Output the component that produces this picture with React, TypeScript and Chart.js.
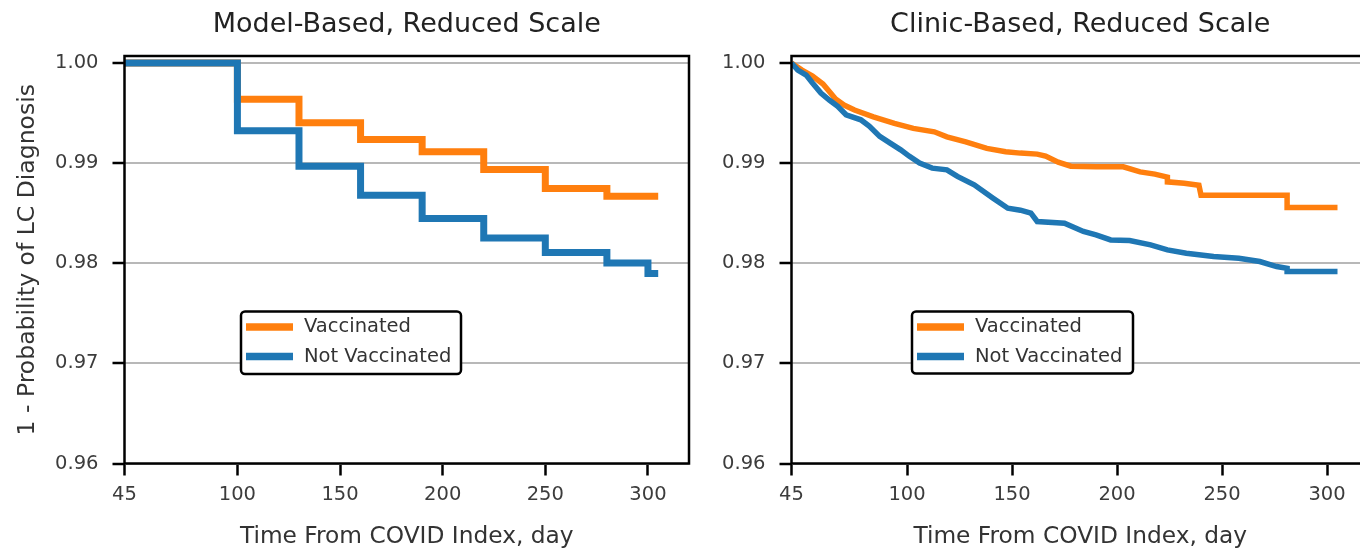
import React, { useEffect, useRef } from "react";
import { Chart, registerables } from "chart.js";

Chart.register(...registerables);

// ---------- data ----------
const xTicks = [45, 100, 150, 200, 250, 300];
const yTicks = [0.96, 0.97, 0.98, 0.99, 1.0];
const seriesLabels = ["Vaccinated", "Not Vaccinated"];
const seriesColors = ["#ff7f0e", "#1f77b4"];
const titles = ["Model-Based, Reduced Scale", "Clinic-Based, Reduced Scale"];
const xTitle = "Time From COVID Index, day";
const yTitle = "1 - Probability of LC Diagnosis";

// Model-based (step every 30 days)
const modelDays = [45, 100, 130, 160, 190, 220, 250, 280, 300, 305];
const modelVacc = [1.0, 0.99637, 0.99403, 0.99237, 0.99113, 0.98937, 0.98747, 0.9867, 0.9867, 0.9867];
const modelUnvacc = [1.0, 0.99323, 0.9897, 0.9868, 0.98447, 0.98253, 0.98107, 0.98003, 0.97897, 0.97897];

// Clinic-based (dense Kaplan-Meier curves; repeated days are vertical drops)
const clinicVaccDays = [45, 50, 55, 60, 66, 70, 75, 84, 94, 103, 113, 119, 128, 138, 147, 154, 162, 166, 172, 178, 190, 203, 211, 218, 224, 224, 232, 239, 240, 281, 281, 305];
const clinicVacc = [1.0, 0.9993, 0.9987, 0.9979, 0.9964, 0.9958, 0.9953, 0.99463, 0.99397, 0.99347, 0.99313, 0.99263, 0.99213, 0.99147, 0.99113, 0.991, 0.9909, 0.9907, 0.9901, 0.9897, 0.98965, 0.98963, 0.98913, 0.9889, 0.9886, 0.98813, 0.988, 0.9878, 0.9868, 0.9868, 0.98557, 0.98557];
const clinicUnvaccDays = [45, 48, 52, 55, 59, 63, 67, 71, 78, 82, 87, 92, 97, 101, 106, 112, 119, 124, 132, 141, 148, 154, 159, 162, 175, 184, 190, 197, 206, 216, 224, 233, 246, 258, 268, 276, 281, 281, 305];
const clinicUnvacc = [1.0, 0.9993, 0.9988, 0.998, 0.997, 0.9963, 0.99567, 0.99483, 0.99433, 0.9937, 0.99267, 0.992, 0.99133, 0.9907, 0.99, 0.9895, 0.98933, 0.98867, 0.98783, 0.9865, 0.9855, 0.9853, 0.985, 0.98417, 0.984, 0.98317, 0.98283, 0.98233, 0.98227, 0.98183, 0.98133, 0.981, 0.98067, 0.9805, 0.98017, 0.97967, 0.9795, 0.97917, 0.97917];

const FONT = "'DejaVu Sans', 'Liberation Sans', sans-serif";

const frameLegendPlugin = {
  id: "frameLegend",
  afterDraw(chart: any, _args: any, opts: any) {
    const { ctx, chartArea: a } = chart;
    ctx.save();
    ctx.strokeStyle = "#000";
    ctx.lineWidth = 2.5;
    ctx.strokeRect(a.left, a.top, a.right - a.left, a.bottom - a.top);

    const bx = a.left + opts.x;
    const by = a.top + opts.y;
    ctx.beginPath();
    if ((ctx as any).roundRect) (ctx as any).roundRect(bx, by, opts.w, opts.h, 4);
    else ctx.rect(bx, by, opts.w, opts.h);
    ctx.fillStyle = "#fff";
    ctx.fill();
    ctx.lineWidth = 2.5;
    ctx.strokeStyle = "#000";
    ctx.stroke();

    chart.data.datasets.forEach((ds: any, i: number) => {
      const y = by + 15.5 + i * 29.5;
      ctx.beginPath();
      ctx.strokeStyle = ds.borderColor;
      ctx.lineWidth = 7.5;
      ctx.lineCap = "butt";
      ctx.moveTo(bx + 5, y);
      ctx.lineTo(bx + 52, y);
      ctx.stroke();
      ctx.fillStyle = "#333";
      ctx.font = `19.5px ${FONT}`;
      ctx.textBaseline = "middle";
      ctx.textAlign = "left";
      ctx.fillText(ds.label, bx + 63, y);
    });
    ctx.restore();
  },
};

function toPoints(xs: number[], ys: number[]) {
  return xs.map((x, i) => ({ x, y: ys[i] }));
}

function buildConfig(
  title: string,
  vacc: { x: number; y: number }[],
  unvacc: { x: number; y: number }[],
  lineWidth: number,
  stepped: boolean,
  showYTitle: boolean,
  rightPad: number,
  legendBox: { x: number; y: number; w: number; h: number }
): any {
  const common = {
    borderWidth: lineWidth,
    stepped,
    tension: 0,
    pointRadius: 0,
    fill: false,
    borderJoinStyle: "miter",
  };
  return {
    type: "line",
    data: {
      datasets: [
        {
          ...common,
          label: seriesLabels[0],
          data: vacc,
          borderColor: seriesColors[0],
          backgroundColor: seriesColors[0],
          order: 1,
        },
        {
          ...common,
          label: seriesLabels[1],
          data: unvacc,
          borderColor: seriesColors[1],
          backgroundColor: seriesColors[1],
          order: 0,
        },
      ],
    },
    options: {
      animation: false,
      responsive: false,
      devicePixelRatio: 1,
      layout: { padding: { left: 0, right: rightPad, top: 0, bottom: 0 } },
      plugins: {
        legend: { display: false },
        tooltip: { enabled: false },
        title: {
          display: true,
          text: title,
          fullSize: false,
          color: "#222",
          font: { family: FONT, size: 27, weight: "normal", lineHeight: 1.2 },
          padding: { top: 8.8, bottom: 14.8 },
        },
        frameLegend: legendBox,
      },
      scales: {
        x: {
          type: "linear",
          min: 45,
          max: 320,
          afterBuildTicks: (s: any) => {
            s.ticks = xTicks.map((v) => ({ value: v }));
          },
          afterFit: (s: any) => {
            s.height = 84.5;
          },
          border: { display: false },
          grid: {
            drawOnChartArea: false,
            drawTicks: true,
            tickLength: 12,
            tickColor: "#000",
            tickWidth: 2.5,
          },
          ticks: {
            color: "#3c3c3c",
            padding: 8,
            maxRotation: 0,
            font: { family: FONT, size: 19.5 },
            callback: (v: any) => String(v),
          },
          title: {
            display: true,
            text: xTitle,
            color: "#333",
            font: { family: FONT, size: 23.3, lineHeight: 0.94 },
            padding: { top: 0, bottom: 0 },
          },
        },
        y: {
          type: "linear",
          min: 0.96,
          max: 1.0007,
          afterBuildTicks: (s: any) => {
            s.ticks = yTicks.map((v) => ({ value: v }));
          },
          afterFit: (s: any) => {
            s.width = 124.5;
          },
          border: { display: false },
          grid: {
            drawOnChartArea: true,
            color: "#b8b8b8",
            lineWidth: 2,
            drawTicks: true,
            tickLength: 12,
            tickColor: "#000",
            tickWidth: 2.5,
          },
          ticks: {
            color: "#3c3c3c",
            padding: 14,
            font: { family: FONT, size: 19.5 },
            callback: (v: any) => Number(v).toFixed(2),
          },
          title: {
            display: showYTitle,
            text: yTitle,
            color: "#333",
            font: { family: FONT, size: 23.5, lineHeight: 1.2 },
            padding: { top: 13.6, bottom: 0 },
          },
        },
      },
    },
    plugins: [frameLegendPlugin],
  };
}

function KMChart(props: { left: number; width: number; config: () => any }) {
  const ref = useRef<HTMLCanvasElement | null>(null);
  useEffect(() => {
    if (!ref.current) return;
    const chart = new Chart(ref.current, props.config());
    return () => chart.destroy();
  }, []);
  return (
    <canvas
      ref={ref}
      width={props.width}
      height={548}
      style={{ position: "absolute", left: props.left, top: 0, width: props.width, height: 548 }}
    />
  );
}

export default function App() {
  return (
    <div
      style={{
        position: "fixed",
        left: 0,
        top: 0,
        width: 1360,
        height: 548,
        overflow: "hidden",
        background: "#fff",
      }}
    >
      <KMChart
        left={0}
        width={700}
        config={() =>
          buildConfig(
            titles[0],
            toPoints(modelDays, modelVacc),
            toPoints(modelDays, modelUnvacc),
            7,
            true,
            true,
            11,
            { x: 116.5, y: 255.5, w: 220, h: 62.5 }
          )
        }
      />
      <KMChart
        left={667}
        width={713}
        config={() =>
          buildConfig(
            titles[1],
            toPoints(clinicVaccDays, clinicVacc),
            toPoints(clinicUnvaccDays, clinicUnvacc),
            5.5,
            false,
            false,
            11,
            { x: 120.5, y: 255.5, w: 221, h: 62 }
          )
        }
      />
    </div>
  );
}
